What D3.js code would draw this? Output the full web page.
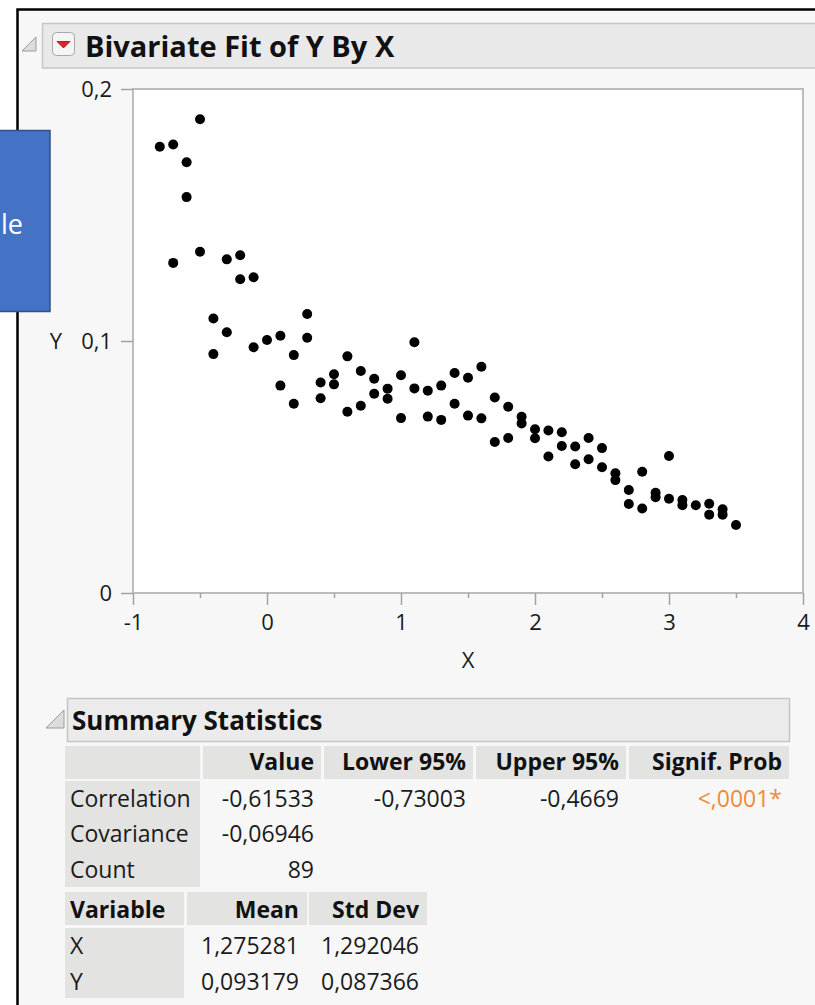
<!DOCTYPE html>
<html>
<head>
<meta charset="utf-8">
<script src="https://cdn.jsdelivr.net/npm/d3@7"></script>
<style>
  html, body { margin: 0; padding: 0; background: #ffffff; }
  svg { display: block; font-family: "Open Sans", "Noto Sans", sans-serif; }
</style>
</head>
<body>
<svg id="chart" width="815" height="1005"></svg>
<script>
// ---- data ---------------------------------------------------------------
const xValues = [-0.8, -0.7, -0.7, -0.6, -0.6, -0.5, -0.5, -0.4, -0.4, -0.3, -0.3,
  -0.2, -0.2, -0.1, -0.1, 0.0, 0.1, 0.1, 0.2, 0.2, 0.3, 0.3, 0.4, 0.4, 0.5, 0.5,
  0.6, 0.6, 0.7, 0.7, 0.8, 0.8, 0.9, 0.9, 1.0, 1.0, 1.1, 1.1, 1.2, 1.2, 1.3, 1.3,
  1.4, 1.4, 1.5, 1.5, 1.6, 1.6, 1.7, 1.7, 1.8, 1.8, 1.9, 1.9, 2.0, 2.0, 2.1, 2.1,
  2.2, 2.2, 2.3, 2.3, 2.4, 2.4, 2.5, 2.5, 2.6, 2.6, 2.7, 2.7, 2.8, 2.8, 2.9, 2.9,
  3.0, 3.0, 3.1, 3.1, 3.2, 3.3, 3.3, 3.4, 3.4, 3.5];
const yValues = [0.1771, 0.1780, 0.1310, 0.1709, 0.1571, 0.1880, 0.1354, 0.1089, 0.0948, 0.1324, 0.1035,
  0.1340, 0.1245, 0.1253, 0.0975, 0.1004, 0.1021, 0.0823, 0.0944, 0.0751, 0.1107, 0.1013, 0.0835, 0.0773, 0.0868, 0.0828,
  0.0939, 0.0719, 0.0881, 0.0743, 0.0850, 0.0791, 0.0811, 0.0771, 0.0864, 0.0694, 0.0995, 0.0812, 0.0803, 0.0700, 0.0823, 0.0687,
  0.0873, 0.0751, 0.0854, 0.0704, 0.0898, 0.0693, 0.0776, 0.0599, 0.0739, 0.0615, 0.0699, 0.0673, 0.0650, 0.0614, 0.0645, 0.0542,
  0.0638, 0.0583, 0.0581, 0.0511, 0.0615, 0.0531, 0.0575, 0.0499, 0.0475, 0.0448, 0.0409, 0.0353, 0.0481, 0.0335, 0.0398, 0.0380,
  0.0544, 0.0374, 0.0369, 0.0348, 0.0348, 0.0354, 0.0311, 0.0332, 0.0311, 0.0270];

const xTicks = [-1, 0, 1, 2, 3, 4];
const xMinorTicks = [-0.5, 0.5, 1.5, 2.5, 3.5];
const yTicks = [0, 0.1, 0.2];

const reportTitle = "Bivariate Fit of Y By X";
const statsTitle = "Summary Statistics";
const statColumns = ["Value", "Lower 95%", "Upper 95%", "Signif. Prob"];
const statRows = ["Correlation", "Covariance", "Count"];
const statValues = [
  ["-0,61533", "-0,73003", "-0,4669", "<,0001*"],
  ["-0,06946", "", "", ""],
  ["89", "", "", ""]
];
const varColumns = ["Variable", "Mean", "Std Dev"];
const varRows = ["X", "Y"];
const varValues = [
  ["1,275281", "1,292046"],
  ["0,093179", "0,087366"]
];

// ---- helpers --------------------------------------------------------------
const svg = d3.select("#chart");
const TEXT = "#1b1b1b";
const CELL = "#e3e3e1";
const locale = d3.formatLocale({ decimal: ",", thousands: ".", grouping: [3], currency: ["", ""], minus: "-" });
const tickFmt = locale.format("~g");

// ---- report frame -------------------------------------------------------
svg.append("rect").attr("x", 17).attr("y", 9).attr("width", 798).attr("height", 996).attr("fill", "#f7f7f7");
svg.append("path").attr("d", "M17.5,1005V9.5H815")
  .attr("fill", "none").attr("stroke", "#000").attr("stroke-width", 2.5);

// disclosure triangles
function disclosure(x, y, s) {
  svg.append("path")
    .attr("d", `M${x},${y}L${x + s},${y}L${x + s},${y - s}Z`)
    .attr("fill", "#dcdcdc").attr("stroke", "#9a9a9a").attr("stroke-width", 1);
}

// report title bar
svg.append("rect").attr("x", 42.5).attr("y", 23.5).attr("width", 790).attr("height", 44.5)
  .attr("fill", "#e9e9e9").attr("stroke", "#c6c6c6").attr("stroke-width", 1.5);
disclosure(22, 51, 14);

// red hotspot button
svg.append("rect").attr("x", 52.5).attr("y", 32.5).attr("width", 22).attr("height", 23).attr("rx", 4)
  .attr("fill", "#f4f4f4").attr("stroke", "#a8a8a8");
svg.append("path").attr("d", "M57,41.5L70,41.5L63.5,48Z")
  .attr("fill", "#e3202c").attr("stroke", "#8a1018").attr("stroke-width", 0.8);

svg.append("text").attr("x", 85).attr("y", 57)
  .attr("font-size", 29).attr("font-weight", 700).attr("fill", "#111")
  .text(reportTitle);

// ---- scatter plot -------------------------------------------------------
const plot = { left: 133, right: 803, top: 89, bottom: 593 };
const x = d3.scaleLinear().domain([-1, 4]).range([plot.left, plot.right]);
const y = d3.scaleLinear().domain([0, 0.2]).range([plot.bottom, plot.top]);

svg.append("rect")
  .attr("x", plot.left).attr("y", plot.top)
  .attr("width", plot.right - plot.left).attr("height", plot.bottom - plot.top)
  .attr("fill", "#ffffff").attr("stroke", "#bcbcbc").attr("stroke-width", 2);

const yAxis = svg.append("g")
  .attr("transform", `translate(${plot.left},0)`)
  .call(d3.axisLeft(y).tickValues(yTicks).tickSize(12).tickPadding(9).tickFormat(tickFmt));
const xAxis = svg.append("g")
  .attr("transform", `translate(0,${plot.bottom})`)
  .call(d3.axisBottom(x).tickValues(xTicks).tickSize(12).tickPadding(9).tickFormat(tickFmt));
const xMinor = svg.append("g")
  .attr("transform", `translate(0,${plot.bottom})`)
  .call(d3.axisBottom(x).tickValues(xMinorTicks).tickSize(5).tickFormat(""));

[yAxis, xAxis, xMinor].forEach(g => {
  g.select(".domain").remove();
  g.selectAll(".tick line").attr("stroke", "#a2a2a2").attr("stroke-width", 1.5);
  g.selectAll(".tick text")
    .attr("font-family", "'Open Sans', sans-serif").attr("font-size", 22).attr("fill", TEXT);
});

// axis titles
svg.append("text").attr("x", 56).attr("y", 349).attr("text-anchor", "middle")
  .attr("font-size", 22).attr("fill", TEXT).text("Y");
svg.append("text").attr("x", (plot.left + plot.right) / 2).attr("y", 668).attr("text-anchor", "middle")
  .attr("font-size", 22).attr("fill", TEXT).text("X");

// markers
svg.append("g").selectAll("circle")
  .data(d3.zip(xValues, yValues))
  .join("circle")
  .attr("cx", d => x(d[0]))
  .attr("cy", d => y(d[1]))
  .attr("r", 5)
  .attr("fill", "#000");

// ---- summary statistics ---------------------------------------------------
disclosure(46, 728, 18);
svg.append("rect").attr("x", 67.5).attr("y", 698.5).attr("width", 722).attr("height", 43)
  .attr("fill", "#ebebeb").attr("stroke", "#c4c4c4").attr("stroke-width", 1.5);
svg.append("text").attr("x", 72).attr("y", 730)
  .attr("font-size", 26).attr("font-weight", 700).attr("fill", "#111")
  .text(statsTitle);

// table 1 : correlation statistics
const statCols = [[65, 200], [203, 321], [324, 473], [476, 626], [629, 789]];
const statHead = { top: 746, bottom: 779 };
const statBody = { top: 781, bottom: 887 };
const statBaselines = [807, 842, 878];

const t1 = svg.append("g");
t1.selectAll("rect.head").data(statCols).join("rect")
  .attr("class", "head")
  .attr("x", d => d[0]).attr("y", statHead.top)
  .attr("width", d => d[1] - d[0]).attr("height", statHead.bottom - statHead.top)
  .attr("fill", CELL);
t1.append("rect").attr("x", statCols[0][0]).attr("y", statBody.top)
  .attr("width", statCols[0][1] - statCols[0][0]).attr("height", statBody.bottom - statBody.top)
  .attr("fill", CELL);

t1.selectAll("text.colhead").data(statColumns).join("text")
  .attr("class", "colhead")
  .attr("x", (d, i) => statCols[i + 1][1] - 7).attr("y", 770)
  .attr("text-anchor", "end").attr("font-size", 23).attr("font-weight", 700).attr("fill", "#111")
  .text(d => d);

t1.selectAll("text.rowhead").data(statRows).join("text")
  .attr("class", "rowhead")
  .attr("x", 70).attr("y", (d, i) => statBaselines[i])
  .attr("font-size", 23).attr("fill", TEXT)
  .text(d => d);

statValues.forEach((row, r) => {
  t1.append("g").selectAll("text").data(row).join("text")
    .attr("x", (d, c) => statCols[c + 1][1] - 7)
    .attr("y", statBaselines[r])
    .attr("text-anchor", "end").attr("font-size", 23)
    .attr("fill", (d, c) => c === 3 ? "#ef8a38" : TEXT)
    .text(d => d);
});

// table 2 : means and standard deviations
const varCols = [[65, 184], [187, 307], [309, 427]];
const varHead = { top: 892, bottom: 925 };
const varBody = { top: 928, bottom: 998 };
const varBaselines = [954, 990];

const t2 = svg.append("g");
t2.selectAll("rect.head").data(varCols).join("rect")
  .attr("class", "head")
  .attr("x", d => d[0]).attr("y", varHead.top)
  .attr("width", d => d[1] - d[0]).attr("height", varHead.bottom - varHead.top)
  .attr("fill", CELL);
t2.append("rect").attr("x", varCols[0][0]).attr("y", varBody.top)
  .attr("width", varCols[0][1] - varCols[0][0]).attr("height", varBody.bottom - varBody.top)
  .attr("fill", CELL);

t2.selectAll("text.colhead").data(varColumns).join("text")
  .attr("class", "colhead")
  .attr("x", (d, i) => i === 0 ? 70 : varCols[i][1] - 8)
  .attr("y", 918)
  .attr("text-anchor", (d, i) => i === 0 ? "start" : "end")
  .attr("font-size", 23).attr("font-weight", 700).attr("fill", "#111")
  .text(d => d);

t2.selectAll("text.rowhead").data(varRows).join("text")
  .attr("class", "rowhead")
  .attr("x", 70).attr("y", (d, i) => varBaselines[i])
  .attr("font-size", 23).attr("fill", TEXT)
  .text(d => d);

varValues.forEach((row, r) => {
  t2.append("g").selectAll("text").data(row).join("text")
    .attr("x", (d, c) => varCols[c + 1][1] - 8)
    .attr("y", varBaselines[r])
    .attr("text-anchor", "end").attr("font-size", 23).attr("fill", TEXT)
    .text(d => d);
});

// ---- overlaid callout shape --------------------------------------------------
svg.append("rect").attr("x", -2).attr("y", 130.5).attr("width", 52).attr("height", 181)
  .attr("fill", "#4472c4").attr("stroke", "#2f528f").attr("stroke-width", 1.5);
svg.append("text").attr("x", 23).attr("y", 234).attr("text-anchor", "end")
  .attr("font-size", 27).attr("fill", "#ffffff").text("le");
</script>
</body>
</html>
